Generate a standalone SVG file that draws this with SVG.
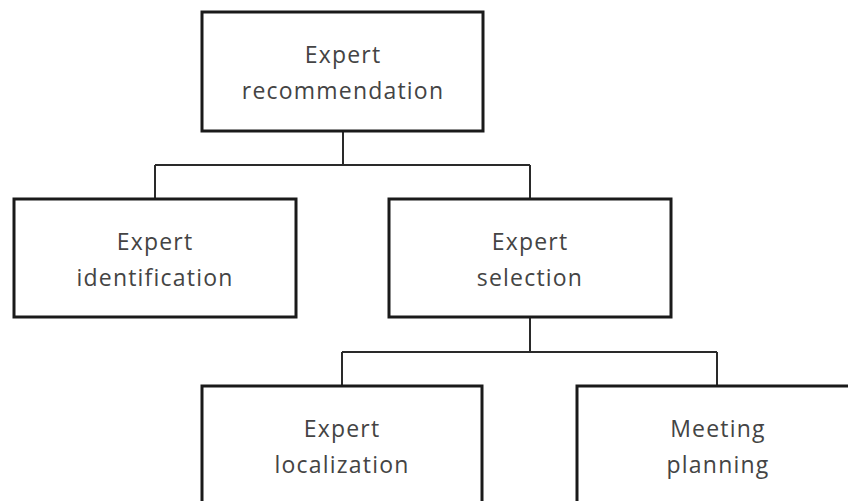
<svg xmlns="http://www.w3.org/2000/svg" width="848" height="501" viewBox="0 0 848 501">
<style>
.box{fill:#fff;stroke:#1a1a1a;stroke-width:3}
.lbl{font-family:"Open Sans","DejaVu Sans",sans-serif;font-size:23px;fill:#444;text-anchor:middle;letter-spacing:1.2px}
.con{fill:none;stroke:#2a2a2a;stroke-width:2}
</style>
<rect width="848" height="501" fill="#fff"/>
<g id="connectors">
<path class="con" d="M343 131V165M155 165H530M155 165V199M530 165V199"/>
<path class="con" d="M530 317V352M342 352H717M342 352V386M717 352V386"/>
</g>
<g id="expert-recommendation">
<rect class="box" x="202" y="12" width="281" height="119"/>
<text class="lbl" x="343" y="63">Expert</text>
<text class="lbl" x="343" y="99">recommendation</text>
</g>
<g id="expert-identification">
<rect class="box" x="14" y="199" width="282" height="118"/>
<text class="lbl" x="155" y="250">Expert</text>
<text class="lbl" x="155" y="286">identification</text>
</g>
<g id="expert-selection">
<rect class="box" x="389" y="199" width="282" height="118"/>
<text class="lbl" x="530" y="250">Expert</text>
<text class="lbl" x="530" y="286">selection</text>
</g>
<g id="expert-localization">
<rect class="box" x="202" y="386" width="280" height="130"/>
<text class="lbl" x="342" y="437">Expert</text>
<text class="lbl" x="342" y="473">localization</text>
</g>
<g id="meeting-planning">
<rect class="box" x="577" y="386" width="282" height="130"/>
<text class="lbl" x="718" y="437">Meeting</text>
<text class="lbl" x="718" y="473">planning</text>
</g>
</svg>
